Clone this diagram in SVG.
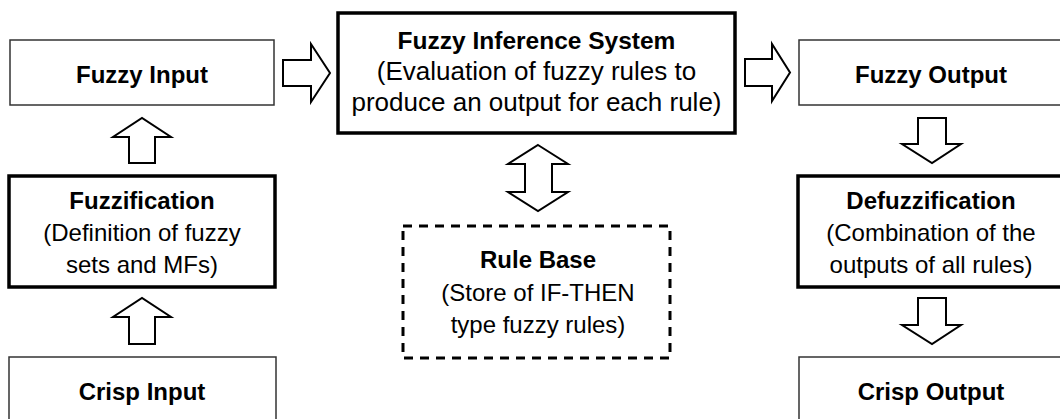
<svg xmlns="http://www.w3.org/2000/svg" width="1060" height="419" viewBox="0 0 1060 419">
<style>
.thin{fill:#fff;stroke:#333;stroke-width:1.5}
.thick{fill:#fff;stroke:#000;stroke-width:3.5}
.dash{fill:#fff;stroke:#000;stroke-width:3;stroke-dasharray:9 7}
.arr{fill:#fff;stroke:#000;stroke-width:2;stroke-linejoin:miter}
text{font-family:"Liberation Sans",Arial,sans-serif;font-size:24px;fill:#000;text-anchor:middle}
.b{font-weight:bold}
.fis{font-size:26px}
</style>
<rect width="1060" height="419" fill="#fff"/>
<g id="fuzzy-input"><rect class="thin" x="10" y="40" width="264" height="65"/><text class="b" x="142" y="83">Fuzzy Input</text></g>
<g id="fis"><rect class="thick" x="338" y="13" width="397" height="120"/><text class="b" x="536.5" y="49" style="font-size:24.5px">Fuzzy Inference System</text><text class="fis" x="536.5" y="80">(Evaluation of fuzzy rules to</text><text class="fis" x="536.5" y="111">produce an output for each rule)</text></g>
<g id="fuzzy-output"><rect class="thin" x="799" y="40" width="280" height="65"/><text class="b" x="931" y="83">Fuzzy Output</text></g>
<g id="fuzzification"><rect class="thick" x="9" y="176" width="266" height="111"/><text class="b" x="142" y="209">Fuzzification</text><text x="142" y="241">(Definition of fuzzy</text><text x="142" y="273">sets and MFs)</text></g>
<g id="rule-base"><rect class="dash" x="403" y="226" width="267" height="132"/><text class="b" x="538" y="268">Rule Base</text><text x="538" y="301">(Store of IF-THEN</text><text x="538" y="333">type fuzzy rules)</text></g>
<g id="defuzzification"><rect class="thick" x="798" y="176" width="280" height="111"/><text class="b" x="931" y="209">Defuzzification</text><text x="931" y="241">(Combination of the</text><text x="931" y="273">outputs of all rules)</text></g>
<g id="crisp-input"><rect class="thin" x="9" y="357" width="267" height="80"/><text class="b" x="142" y="400">Crisp Input</text></g>
<g id="crisp-output"><rect class="thin" x="799" y="357" width="280" height="80"/><text class="b" x="931" y="400">Crisp Output</text></g>
<g id="connectors">
<polygon class="arr" points="283,60 311,60 311,44 330,73 311,102 311,86 283,86"/>
<polygon class="arr" points="745,59 772,59 772,44 790,72.5 772,101 772,86 745,86"/>
<polygon class="arr" points="129,163 129,137 113,137 142,118 171,137 155,137 155,163"/>
<polygon class="arr" points="129,344 129,317 113,317 142,298 171,317 155,317 155,344"/>
<polygon class="arr" points="918,118 946,118 946,144 961,144 932,163 902,144 918,144"/>
<polygon class="arr" points="918,298 946,298 946,325 961,325 932,344 902,325 918,325"/>
<polygon class="arr" points="538,145 568,164 552,164 552,192 568,192 538,211 508,192 525,192 525,164 508,164"/>
</g>
</svg>
